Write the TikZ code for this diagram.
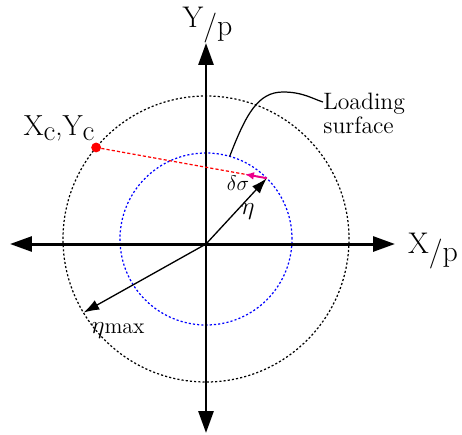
\documentclass[tikz,border=0pt]{standalone}
\usepackage{xcolor}
\usepackage{amsmath}
\usepackage{amssymb}
\usepackage{tikz}
\usetikzlibrary{arrows.meta,calc}

\newcommand{\dropped}[2]{\raisebox{-#1em}{#2}}

\begin{document}
\begin{tikzpicture}[
				x=0.02cm,
				y=0.02cm,
				axis/.style={
					line width=1.7pt,
					>={Triangle[length=12.5pt,width=8.5pt]},
					<->
				},
				outercircle/.style={
					draw=black,
					line width=0.7pt,
					dash pattern=on 1.2pt off 1.2pt
				},
				innercircle/.style={
					draw=blue,
					line width=0.7pt,
					dash pattern=on 1.2pt off 1.2pt
				},
				radiusarrow/.style={
					draw=black,
					line width=0.75pt,
					-{Latex[length=9pt,width=6pt]}
				},
				trialline/.style={
					draw=red,
					line width=0.7pt,
					dash pattern=on 1.8pt off 1.2pt
				},
				increment/.style={
					draw=magenta,
					line width=1.1pt,
					-{Latex[length=5pt,width=4.5pt]}
				},
				leader/.style={
					draw=black,
					line width=0.7pt
				},
				statedot/.style={
					circle,
					fill=red,
					inner sep=0pt,
					minimum size=5.6pt
				},
				txt/.style={
					inner sep=0pt
				}
			]

				\useasboundingbox (-206,-190) rectangle (256,244);

				\coordinate (O) at (0,0);
				\coordinate (C) at (0,5);
				\coordinate (W) at (-196,0);
				\coordinate (E) at (189,0);
				\coordinate (S) at (0,-189);
				\coordinate (N) at (0,201);

				\draw[outercircle] (C) circle (143);
				\draw[innercircle] (C) circle (86);

				\coordinate (P) at ($(C)+(45:86)$);
				\coordinate (Pmax) at ($(C)+(211:143)$);
				\coordinate (lsA) at ($(C)+(74:86)$);
				\coordinate (lsB) at (117,142);

				\draw[axis] (W) -- (E);
				\draw[axis] (S) -- (N);

				\node[statedot] (XY) at ($(C)+(140.2:143)$) {};
				\coordinate (ds) at ($(P)!0.127!(XY)$);

				\draw[trialline] (XY) -- (P);
				\draw[radiusarrow] (O) -- (P);
				\draw[radiusarrow] (O) -- (Pmax);
				\draw[increment] (P) -- (ds);

				\draw[leader]
					(lsA) .. controls (40,130) and (52,152) .. (77,152)
					.. controls (97,152) and (107,145) .. (lsB);

				\node[txt, anchor=base, font=\fontsize{17}{18}\selectfont]
					(ylab) at (1.5,217) {Y\dropped{0.27}{/p}};
				\node[txt, anchor=base, font=\fontsize{17}{18}\selectfont]
					(xlab) at (227,-9) {X\dropped{0.3}{/p}};
				\node[txt, anchor=base, font=\fontsize{16.5}{18}\selectfont]
					(xylab) at (-147,109) {X\dropped{0.18}{c},Y\dropped{0.18}{c}};
				\node[txt, anchor=north west, align=left, font=\fontsize{13.5}{13.6}\selectfont]
					(load) at (117,151.5) {Loading\\surface};
				\node[txt, font=\fontsize{14}{14}\selectfont]
					(etalab) at (42,32) {$\eta$};
				\node[txt, font=\fontsize{13}{14}\selectfont]
					(dslab) at (32,61) {$\delta\sigma$};
				\node[txt, anchor=base, font=\fontsize{12.5}{14}\selectfont]
					(etamax) at (-88,-89) {{\fontsize{15}{15}\selectfont$\eta$}max};

			\end{tikzpicture}
\end{document}
